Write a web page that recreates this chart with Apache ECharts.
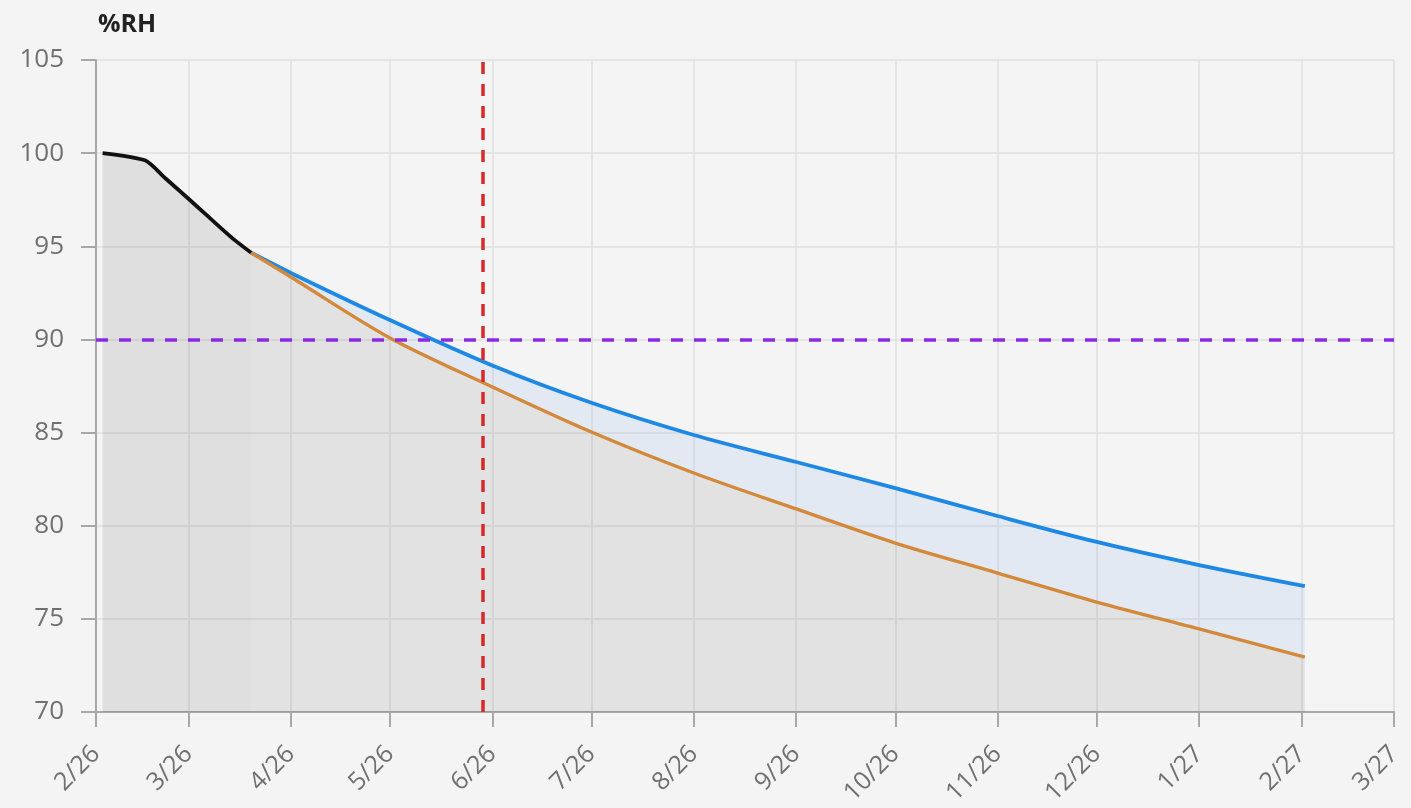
<!DOCTYPE html>
<html>
<head>
<meta charset="utf-8">
<script src="https://cdn.jsdelivr.net/npm/echarts@6/dist/echarts.min.js"></script>
<style>
html,body{margin:0;padding:0;background:#f4f4f4;}
#chart{width:1411px;height:808px;}
</style>
</head>
<body>
<div id="chart"></div>
<script>
// measured curve (black) before the forecast starts
var pastDates = ['2026-02-03','2026-02-16','2026-02-22','2026-03-01','2026-03-06','2026-03-11','2026-03-15','2026-03-20'];
var pastValues = [100, 99.6, 98.65, 97.55, 96.75, 95.95, 95.33, 94.65];

// forecast band
var fcDates = ['2026-03-20','2026-04-01','2026-05-01','2026-06-01','2026-07-01','2026-08-01','2026-09-01','2026-10-01','2026-11-01','2026-12-01','2027-01-01','2027-02-02'];
var highValues = [94.65, 93.57, 91.04, 88.6, 86.6, 84.87, 83.42, 82.02, 80.52, 79.13, 77.89, 76.76];
var lowValues  = [94.65, 93.35, 90.08, 87.45, 85.03, 82.83, 80.9, 79.07, 77.46, 75.9, 74.46, 72.95];

var limitValue = 90;
var markerDate = '2026-05-29';

var xMin = '2026-02-01', xMax = '2027-03-01';

var dom = document.getElementById('chart');
var myChart = echarts.init(dom);

var past = [], low = [], band = [];
for (var i = 0; i < pastDates.length; i++) past.push([pastDates[i], pastValues[i]]);
for (var j = 0; j < fcDates.length; j++) {
  low.push([fcDates[j], lowValues[j]]);
  band.push([fcDates[j], +(highValues[j] - lowValues[j]).toFixed(2)]);
}

var option = {
  backgroundColor: '#f4f4f4',
  textStyle: { fontFamily: 'Open Sans' },
  title: {
    text: '%RH', left: 93, top: 7,
    textStyle: { fontSize: 25, fontWeight: 'bold', color: '#222', fontFamily: 'Open Sans' }
  },
  grid: { left: 96, right: 17, top: 60, bottom: 96, outerBoundsMode: 'none', containLabel: false },
  xAxis: {
    type: 'time',
    min: xMin, max: xMax,
    minInterval: 28 * 86400000,
    maxInterval: 31 * 86400000,
    axisLine: { lineStyle: { color: '#a8a8a8', width: 2 } },
    axisTick: { show: true, length: 15, lineStyle: { color: '#a8a8a8', width: 2 } },
    splitLine: { show: true, lineStyle: { color: '#e0e0e0', width: 1.5 } },
    axisLabel: {
      rotate: 45, fontSize: 25, color: '#707070', margin: 38,
      showMinLabel: true, showMaxLabel: true, hideOverlap: false,
      formatter: function (v) {
        var d = new Date(v);
        return (d.getMonth() + 1) + '/' + String(d.getFullYear()).slice(2);
      }
    }
  },
  yAxis: {
    type: 'value', min: 70, max: 105, interval: 5,
    axisLine: { show: true, lineStyle: { color: '#a8a8a8', width: 2 } },
    axisTick: { show: true, length: 15, lineStyle: { color: '#a8a8a8', width: 2 } },
    splitLine: { show: true, lineStyle: { color: '#e0e0e0', width: 1.5 } },
    axisLabel: { fontSize: 26, color: '#707070', margin: 32 }
  },
  series: [
    {
      name: 'past', type: 'line', data: past, showSymbol: false,
      smooth: 0.2, z: 4,
      lineStyle: { color: '#111', width: 3.8 },
      areaStyle: { color: 'rgba(0,0,0,0.12)' }
    },
    {
      name: 'low', type: 'line', data: low, stack: 'fc', showSymbol: false,
      smooth: 0.3, z: 4,
      lineStyle: { color: '#d4883a', width: 3.4 },
      areaStyle: { color: 'rgba(0,0,12,0.1)' }
    },
    {
      name: 'high', type: 'line', data: band, stack: 'fc', showSymbol: false,
      smooth: 0.3, z: 3,
      lineStyle: { color: '#1e88e5', width: 3.8 },
      areaStyle: { color: 'rgba(30,110,230,0.11)' },
      markLine: {
        silent: true, symbol: 'none', label: { show: false },
        data: [
          { xAxis: markerDate, lineStyle: { color: '#d62a2a', width: 3.5, type: [12, 10] } },
          { yAxis: limitValue, lineStyle: { color: '#8a2be2', width: 3.5, type: [12, 11] } }
        ]
      }
    }
  ]
};

myChart.setOption(option);
</script>
</body>
</html>
